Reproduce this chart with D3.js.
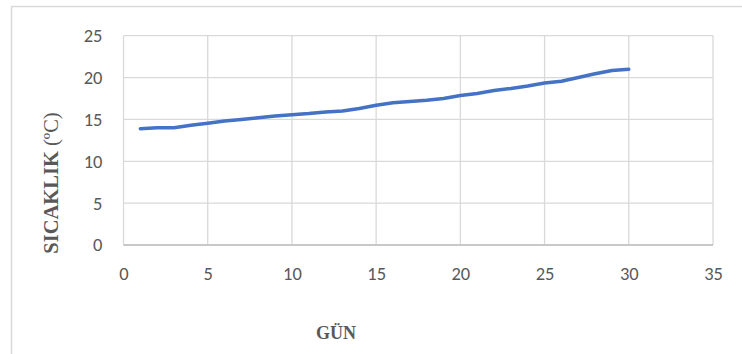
<!DOCTYPE html>
<html>
<head>
<meta charset="utf-8">
<script src="https://cdn.jsdelivr.net/npm/d3@7"></script>
<style>
  html, body { margin: 0; padding: 0; background: #fff; }
  svg { display: block; }
</style>
</head>
<body>
<svg id="chart" width="742" height="354"></svg>
<script>
// Daily temperature readings (day 1..30)
const days = d3.range(1, 31);
const temps = [13.9, 14.0, 14.0, 14.3, 14.55, 14.8, 15.0, 15.2, 15.4, 15.55,
               15.7, 15.9, 16.0, 16.3, 16.7, 17.0, 17.15, 17.3, 17.5, 17.85,
               18.1, 18.45, 18.7, 19.0, 19.35, 19.55, 20.0, 20.45, 20.85, 21.0];
const xTicks = [0, 5, 10, 15, 20, 25, 30, 35];
const yTicks = [0, 5, 10, 15, 20, 25];
const xTitle = "GÜN";
const yTitleBold = "SICAKLIK";
const yTitleUnit = " (ºC)";

const svg = d3.select("#chart");
const plot = { left: 123.5, right: 713, top: 35.7, bottom: 245 };

// Chart frame
svg.append("path")
  .attr("d", "M11.5,354 V6.5 H742")
  .attr("fill", "none")
  .attr("stroke", "#d9d9d9")
  .attr("stroke-width", 1.5);

const x = d3.scaleLinear().domain([0, 35]).range([plot.left, plot.right]);
const y = d3.scaleLinear().domain([0, 25]).range([plot.bottom, plot.top]);

const tickFont = "Carlito, Lato, sans-serif";

// Gridlines
svg.append("g").selectAll("line.v").data(xTicks).join("line")
  .attr("x1", d => x(d)).attr("x2", d => x(d))
  .attr("y1", plot.top).attr("y2", plot.bottom)
  .attr("stroke", "#d9d9d9").attr("stroke-width", 1.3);
svg.append("g").selectAll("line.h").data(yTicks).join("line")
  .attr("x1", plot.left).attr("x2", plot.right)
  .attr("y1", d => y(d)).attr("y2", d => y(d))
  .attr("stroke", "#d9d9d9").attr("stroke-width", 1.3);

// Bottom axis line
svg.append("line")
  .attr("x1", plot.left).attr("x2", plot.right)
  .attr("y1", plot.bottom).attr("y2", plot.bottom)
  .attr("stroke", "#bfbfbf").attr("stroke-width", 1.3);

// Axes with D3 (lines hidden, labels only)
const xAxis = svg.append("g")
  .attr("transform", `translate(0,${plot.bottom})`)
  .call(d3.axisBottom(x).tickValues(xTicks).tickSize(0).tickPadding(22));
const yAxis = svg.append("g")
  .attr("transform", `translate(${plot.left},0)`)
  .call(d3.axisLeft(y).tickValues(yTicks).tickSize(0).tickPadding(21));
[xAxis, yAxis].forEach(g => {
  g.select(".domain").remove();
  g.selectAll("text")
    .attr("fill", "#595959")
    .style("font-family", tickFont)
    .style("font-weight", 300)
    .style("font-size", "18.5px");
});

// Temperature line
const line = d3.line()
  .x((d, i) => x(days[i]))
  .y(d => y(d));
svg.append("path")
  .datum(temps)
  .attr("d", line)
  .attr("fill", "none")
  .attr("stroke", "#4472c4")
  .attr("stroke-width", 3.5)
  .attr("stroke-linejoin", "round")
  .attr("stroke-linecap", "round");

// Axis titles
svg.append("text")
  .attr("x", 336).attr("y", 339)
  .attr("text-anchor", "middle")
  .attr("fill", "#595959")
  .style("font-family", "'Liberation Serif', 'Times New Roman', serif")
  .style("font-weight", "bold")
  .style("font-size", "18px")
  .text(xTitle);

const yt = svg.append("text")
  .attr("transform", "translate(58,183) rotate(-90)")
  .attr("text-anchor", "middle")
  .attr("fill", "#595959")
  .style("font-family", "'Liberation Serif', 'Times New Roman', serif")
  .style("font-size", "20.5px");
yt.append("tspan").style("font-weight", "bold").text(yTitleBold);
yt.append("tspan").text(yTitleUnit);
</script>
</body>
</html>
